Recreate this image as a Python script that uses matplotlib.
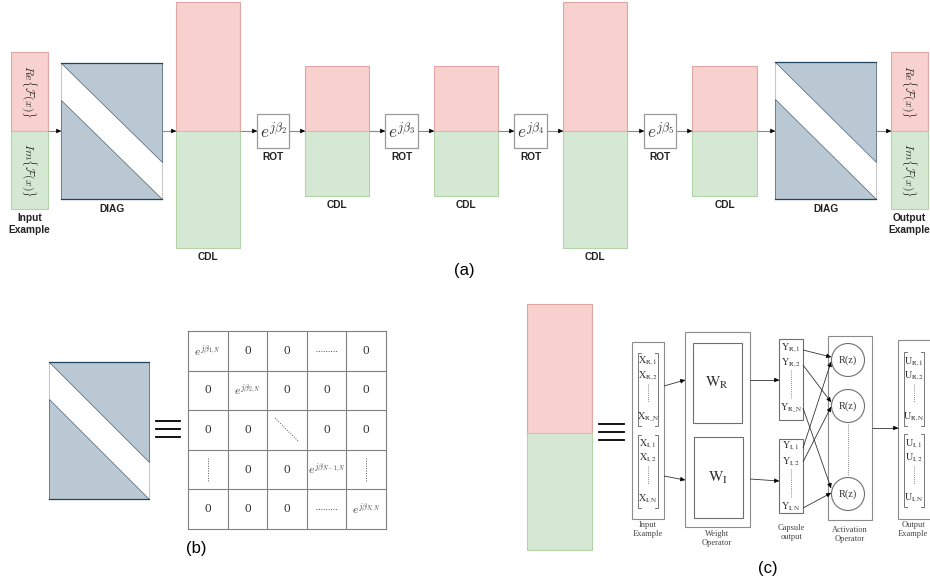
import matplotlib
matplotlib.use('Agg')
import matplotlib.pyplot as plt
from matplotlib.patches import Rectangle, Polygon, Circle

plt.rcParams['mathtext.fontset'] = 'stix'

# ---------------- content ----------------
top_kinds = ['input', 'diag', 'cdl', 'rot', 'cdl', 'rot', 'cdl', 'rot', 'cdl', 'rot', 'cdl', 'diag', 'output']
rot_texts = [r'$e^{j\beta_2}$', r'$e^{j\beta_3}$', r'$e^{j\beta_4}$', r'$e^{j\beta_5}$']
io_texts = [r'$Re\{\mathcal{F}(x)\}$', r'$Im\{\mathcal{F}(x)\}$']
block_names = {'input': 'Input\nExample', 'output': 'Output\nExample', 'diag': 'DIAG', 'cdl': 'CDL', 'rot': 'ROT'}

matrix_cells = [
    [r'$e^{j\beta_{1,N}}$', '0', '0', '-', '0'],
    ['0', r'$e^{j\beta_{2,N}}$', '0', '0', '0'],
    ['0', '0', '\\', '0', '0'],
    ['|', '0', '0', r'$e^{j\beta_{N-1,N}}$', '|'],
    ['0', '0', '0', '-', r'$e^{j\beta_{N,N}}$'],
]

x_r = [r'$\mathrm{X_{R,1}}$', r'$\mathrm{X_{R,2}}$', r'$\mathrm{X_{R\_N}}$']
x_i = [r'$\mathrm{X_{I,1}}$', r'$\mathrm{X_{I,2}}$', r'$\mathrm{X_{I,N}}$']
y_r = [r'$\mathrm{Y_{R,1}}$', r'$\mathrm{Y_{R,2}}$', r'$\mathrm{Y_{R\_N}}$']
y_i = [r'$\mathrm{Y_{I,1}}$', r'$\mathrm{Y_{I,2}}$', r'$\mathrm{Y_{I,N}}$']
u_r = [r'$\mathrm{U_{R,1}}$', r'$\mathrm{U_{R,2}}$', r'$\mathrm{U_{R,N}}$']
u_i = [r'$\mathrm{U_{I,1}}$', r'$\mathrm{U_{I,2}}$', r'$\mathrm{U_{I,N}}$']
weights = [r'$\mathrm{W_R}$', r'$\mathrm{W_I}$']
act_text = 'R(z)'
c_captions = ['Input\nExample', 'Weight\nOperator', 'Capsule\noutput', 'Activation\nOperator', 'Output\nExample']
# capsule output row -> activation circle
cross_links = [(0, 0, 0), (0, 1, 1), (0, 2, 2), (1, 0, 0), (1, 1, 1), (1, 2, 2)]
panel_tags = ['(a)', '(b)', '(c)']

PINK, PINK_E = '#f8d0cd', '#dca7a4'
GREEN, GREEN_E = '#d5e8d4', '#b3d3a8'
SLATE, SLATE_E = '#bac8d3', '#4a6275'

fig = plt.figure(figsize=(9.3, 5.83), dpi=100)
ax = fig.add_axes([0, 0, 1, 1])
ax.set_xlim(0, 930)
ax.set_ylim(583, 0)
ax.axis('off')


def arrow(x0, y0, x1, y1, line='#8a8a8a', lw=0.8):
    ax.plot([x0, x1], [y0, y1], color=line, lw=lw, solid_capstyle='butt')
    dx, dy = x1 - x0, y1 - y0
    d = (dx * dx + dy * dy) ** 0.5
    ax.annotate('', xy=(x1, y1), xytext=(x1 - 5 * dx / d, y1 - 5 * dy / d),
                arrowprops=dict(arrowstyle='-|>', color='black', lw=0.4,
                                mutation_scale=7, shrinkA=0, shrinkB=0))


def split_bar(x0, x1, y0, y1, ymid):
    ax.add_patch(Rectangle((x0, y0), x1 - x0, ymid - y0, fc=PINK, ec=PINK_E, lw=0.8))
    ax.add_patch(Rectangle((x0, ymid), x1 - x0, y1 - ymid, fc=GREEN, ec=GREEN_E, lw=0.8))


def diag(x0, x1, y0, y1):
    h = y1 - y0
    ax.add_patch(Rectangle((x0, y0), x1 - x0, h, fc='white', ec='#c8c8c8', lw=0.8))
    ax.add_patch(Polygon([(x0, y0), (x1, y0), (x1, y0 + 0.73 * h)], closed=True,
                         fc=SLATE, ec=SLATE_E, lw=0.5))
    ax.add_patch(Polygon([(x0, y0 + 0.27 * h), (x0, y1), (x1, y1)], closed=True,
                         fc=SLATE, ec=SLATE_E, lw=0.5))
    ax.plot([x0, x1], [y0, y0], color='#23445d', lw=0.9)
    ax.plot([x0, x1], [y1, y1], color='#23445d', lw=0.9)


def equals(x0, x1, ys):
    for y in ys:
        ax.plot([x0, x1], [y, y], color='black', lw=1.3)


def bracket(x0, x1, y0, y1, col='#777777'):
    for x, s in ((x0, 1), (x1, -1)):
        ax.plot([x + 3 * s, x, x, x + 3 * s], [y0, y0, y1, y1], color=col, lw=0.7)


lab = dict(fontsize=7.3, fontweight='bold', family='Liberation Sans', color='#222222')

# ---------------- (a) top pipeline ----------------
ymid = 131
boxes = [(11, 48, 52, 209), (61, 162, 63, 199), (176, 240, 2, 248), (257, 289, 114, 148),
         (305, 369, 66, 196), (385, 418, 114, 148), (434, 498, 66, 196), (514, 547, 114, 148),
         (563, 627, 2, 248), (644, 676, 114, 148), (692, 757, 66, 196), (775, 876, 62, 199),
         (891, 928, 52, 209)]
r = 0
for kind, (x0, x1, y0, y1) in zip(top_kinds, boxes):
    xc = (x0 + x1) / 2
    if kind in ('input', 'output'):
        split_bar(x0, x1, y0, y1, ymid)
        ax.text(xc, (y0 + ymid) / 2, io_texts[0], rotation=-90, ha='center', va='center',
                fontsize=8.5, math_fontfamily='cm', color='#333333')
        ax.text(xc, (ymid + y1) / 2, io_texts[1], rotation=-90, ha='center', va='center',
                fontsize=8.5, math_fontfamily='cm', color='#333333')
        ax.text(xc, y1 + 4, block_names[kind], ha='center', va='top', linespacing=1.3, **lab)
    elif kind == 'diag':
        diag(x0, x1, y0, y1)
        ax.text(xc, y1 + 10, block_names[kind], ha='center', va='center', **lab)
    elif kind == 'cdl':
        split_bar(x0, x1, y0, y1, ymid)
        ax.text(xc, y1 + 9, block_names[kind], ha='center', va='center', **lab)
    else:
        ax.add_patch(Rectangle((x0, y0), x1 - x0, y1 - y0, fc='white', ec='#9a9a9a', lw=0.9))
        ax.text(xc, (y0 + y1) / 2 + 1, rot_texts[r], ha='center', va='center', fontsize=12.5,
                math_fontfamily='cm', color='#333333')
        ax.text(xc, y1 + 8.5, block_names[kind], ha='center', va='center', **lab)
        r += 1

for (a0, a1, _, _), (b0, b1, _, _) in zip(boxes[:-1], boxes[1:]):
    arrow(a1, ymid, b0, ymid)

ax.text(464, 270, panel_tags[0], ha='center', va='center', fontsize=12, family='Liberation Sans')

# ---------------- (b) diagonal matrix ----------------
diag(49, 149, 362, 499)
equals(156, 180, [421, 429, 437])
gx0, gy0, cs = 188, 331, 39.6
for i in range(6):
    ax.plot([gx0, gx0 + 5 * cs], [gy0 + i * cs] * 2, color='#808080', lw=0.8)
    ax.plot([gx0 + i * cs] * 2, [gy0, gy0 + 5 * cs], color='#808080', lw=0.8)
for i, row in enumerate(matrix_cells):
    for j, val in enumerate(row):
        cx, cy = gx0 + (j + 0.5) * cs, gy0 + (i + 0.5) * cs
        if val == '-':
            ax.plot([cx - 11, cx + 11], [cy, cy], color='#555555', lw=0.7, ls=(0, (1, 1.5)))
        elif val == '|':
            ax.plot([cx, cx], [cy - 12, cy + 12], color='#555555', lw=0.7, ls=(0, (1, 1.5)))
        elif val == '\\':
            ax.plot([cx - 12, cx + 12], [cy - 12, cy + 12], color='#555555', lw=0.7, ls=(0, (1, 1.5)))
        elif val == '0':
            ax.text(cx, cy, val, ha='center', va='center', fontsize=9.5, family='Liberation Serif',
                    color='#333333')
        else:
            ax.text(cx, cy, val, ha='center', va='center', fontsize=8.5, math_fontfamily='cm',
                    color='#444444')
ax.text(196, 548, panel_tags[1], ha='center', va='center', fontsize=12, family='Liberation Sans')

# ---------------- (c) capsule block ----------------
split_bar(527, 592, 304, 550, 433)
equals(599, 624, [424, 432, 440])

box_ec = '#8c8c8c'
serif = dict(ha='center', va='center', color='#333333')
sub = 7.2

# input example
ax.add_patch(Rectangle((632, 342), 32, 177, fc='white', ec=box_ec, lw=0.8))
bracket(638, 658, 353, 426)
bracket(638, 658, 435, 508)
for lbls, ys, dots in ((x_r, [361, 376, 417], (384, 402)), (x_i, [444, 458, 499], (466, 484))):
    for t, y in zip(lbls, ys):
        ax.text(648, y, t, fontsize=sub, **serif)
    ax.plot([648, 648], dots, color='#666666', lw=0.6, ls=(0, (1, 1.5)))

# weight operator
ax.add_patch(Rectangle((685, 332), 65, 195, fc='white', ec=box_ec, lw=0.8))
ax.add_patch(Rectangle((693, 343), 49, 80, fc='white', ec='#6f6f6f', lw=0.8))
ax.add_patch(Rectangle((694, 437), 49, 81, fc='white', ec='#6f6f6f', lw=0.8))
ax.text(717, 383, weights[0], fontsize=11, **serif)
ax.text(718, 478, weights[1], fontsize=11, **serif)
arrow(664, 386, 685, 380, line='#333333', lw=0.6)
arrow(664, 476, 685, 480, line='#333333', lw=0.6)

# capsule output
ax.add_patch(Rectangle((779, 339), 24, 81, fc='white', ec='#6f6f6f', lw=0.8))
ax.add_patch(Rectangle((779, 439), 24, 74, fc='white', ec='#6f6f6f', lw=0.8))
cap_ys = ([348, 363, 408], [446, 462, 507])
for lbls, ys, dots in ((y_r, cap_ys[0], (370, 398)), (y_i, cap_ys[1], (469, 498))):
    for t, y in zip(lbls, ys):
        ax.text(791, y, t, fontsize=sub, **serif)
    ax.plot([791, 791], dots, color='#666666', lw=0.6, ls=(0, (1, 1.5)))
arrow(750, 380, 779, 380, line='#333333', lw=0.6)
arrow(750, 479, 779, 481, line='#333333', lw=0.6)

# activation operator
ax.add_patch(Rectangle((828, 336), 44, 184, fc='white', ec=box_ec, lw=0.8))
circ_y = [360, 406, 494]
for cy in circ_y:
    ax.add_patch(Circle((848, cy), 16.5, fc='white', ec='#6f6f6f', lw=0.8))
    ax.text(848, cy, act_text, fontsize=7.5, family='Liberation Serif', **serif)
ax.plot([848, 848], [424, 475], color='#666666', lw=0.6, ls=(0, (1, 1.5)))
cross_src = ([350, 365, 408], [448, 462, 508])
cross_dst = ([357, 362], [402, 407], [488, 493])
for side, k, c in cross_links:
    arrow(803, cross_src[side][k], 831, cross_dst[c][side], line='#333333', lw=0.6)

# output example
arrow(872, 428, 898, 428, line='#333333', lw=0.6)
ax.add_patch(Rectangle((898, 340), 40, 179, fc='white', ec=box_ec, lw=0.8, clip_on=True))
bracket(904, 924, 352, 426)
bracket(904, 924, 434, 507)
for lbls, ys, dots in ((u_r, [362, 376, 417], (384, 402)), (u_i, [444, 458, 498], (466, 484))):
    for t, y in zip(lbls, ys):
        ax.text(914, y, t, fontsize=sub, **serif)
    ax.plot([914, 914], dots, color='#666666', lw=0.6, ls=(0, (1, 1.5)))

for t, (x, y) in zip(c_captions, [(648, 521), (717, 530), (791, 524), (850, 526), (913, 521)]):
    ax.text(x, y, t, ha='center', va='top', fontsize=6, family='Liberation Serif',
            color='#444444', linespacing=1.2)

ax.text(768, 568, panel_tags[2], ha='center', va='center', fontsize=12, family='Liberation Sans')

fig.savefig('out.png', dpi=100)
